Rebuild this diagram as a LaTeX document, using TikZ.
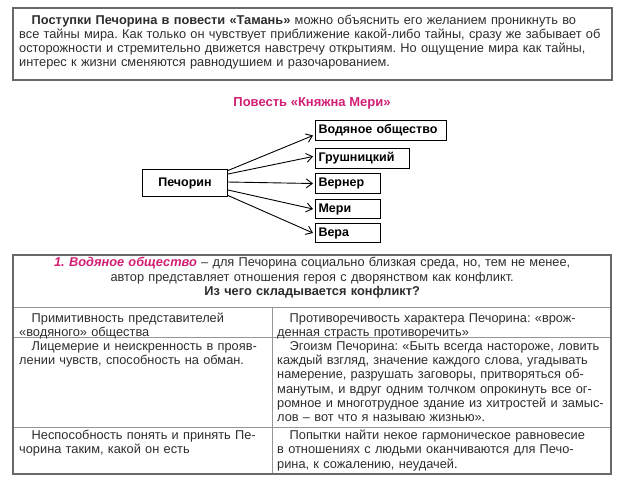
\documentclass[tikz,border=0pt]{standalone}
\usepackage{fontspec}
\setmainfont{Liberation Sans}
\usetikzlibrary{arrows.meta}
\definecolor{mag}{RGB}{210,30,115}
\definecolor{bord}{RGB}{105,105,105}
\definecolor{gridc}{RGB}{150,150,150}
\definecolor{txt}{RGB}{45,45,45}
\frenchspacing
\newcommand\jline[1]{\hbox to \hsize{\strut#1}}
\newcommand\nline[1]{\hbox{\strut#1}}
\newcommand\ctrline[1]{\hbox to \hsize{\hfil\strut#1\hfil}}
\newcommand\ind{\kern12.5pt}
\begin{document}
\begin{tikzpicture}[x=1pt,y=-1pt,
  txtblk/.style={anchor=north west, inner sep=0pt, text=txt, font=\fontsize{12.8}{14.2}\selectfont},
  cbox/.style={draw, line width=1pt, inner xsep=3pt, inner ysep=0pt, anchor=north west,
    font=\bfseries\fontsize{12.5}{14}\selectfont, text height=9.5pt, text depth=3pt, align=left},
  arr/.style={line width=0.9pt, -{Straight Barb[length=6pt,width=9pt]}},
  frame/.style={draw=bord, line width=2pt},
  gridline/.style={draw=gridc, line width=1pt}]
\useasboundingbox (0,0) rectangle (624,491);
% intro box
\draw[frame] (13,8) rectangle (612,80);
\node[txtblk, text width=585pt] (intro) at (19,14) {%
\nline{\ind\textbf{Поступки Печорина в повести «Тамань»} можно объяснить его желанием проникнуть во}
\nline{все тайны мира. Как только он чувствует приближение какой-либо тайны, сразу же забывает об}
\nline{осторожности и стремительно движется навстречу открытиям. Но ощущение мира как тайны,}
\nline{интерес к жизни сменяются равнодушием и разочарованием.}};
% title
\node[font=\bfseries\fontsize{13}{14}\selectfont, text=mag, inner sep=0pt] (title) at (312,103) {Повесть «Княжна Мери»};
% scheme
\node[cbox, minimum width=85pt, minimum height=27pt, text width=79pt, align=center] (pech) at (142,169) {Печорин};
\node[cbox, minimum width=131pt, minimum height=20pt, text width=125pt] (vod) at (315,120) {Водяное общество};
\node[cbox, minimum width=94pt, minimum height=20pt, text width=88pt] (grush) at (315,148) {Грушницкий};
\node[cbox, minimum width=65pt, minimum height=20pt, text width=59pt] (vern) at (315,173) {Вернер};
\node[cbox, minimum width=65pt, minimum height=19pt, text width=59pt] (meri) at (315,199) {Мери};
\node[cbox, minimum width=65pt, minimum height=19pt, text width=59pt] (vera) at (315,223) {Вера};
\draw[arr] ([yshift=-1.5pt]pech.north east) -- ([xshift=-2pt,yshift=-5pt]vod.west);
\draw[arr] ([yshift=-5pt]pech.north east) -- ([xshift=-2pt,yshift=2pt]grush.west);
\draw[arr] ([yshift=-13pt]pech.north east) -- ([xshift=-2pt]vern.west);
\draw[arr] ([yshift=-21pt]pech.north east) -- ([xshift=-2pt]meri.west);
\draw[arr] ([yshift=1.5pt]pech.south east) -- ([xshift=-2pt]vera.west);
% table lines
\draw[gridline] (13,307) -- (611,307);
\draw[gridline] (13,337) -- (611,337);
\draw[gridline] (13,427) -- (611,427);
\draw[gridline] (272,307) -- (272,474);
\draw[frame] (13,255) rectangle (611,474);
% header
\node[txtblk, text width=590pt] (head) at (17,256.8) {%
\ctrline{\textcolor{mag}{\bfseries\itshape 1. Водяное общество} – для Печорина социально близкая среда, но, тем не менее,}
\ctrline{автор представляет отношения героя с дворянством как конфликт.}
\ctrline{\bfseries Из чего складывается конфликт?}};
% row 1
\node[txtblk, text width=246pt] (l1) at (19,312.5) {%
\nline{\ind Примитивность представителей}
\nline{«водяного» общества}};
\node[txtblk, text width=323pt] (r1) at (277,312.5) {%
\nline{\ind Противоречивость характера Печорина: «врож-}
\nline{денная страсть противоречить»}};
% row 2
\node[txtblk, text width=246pt] (l2) at (19,340.3) {%
\nline{\ind Лицемерие и неискренность в прояв-}
\nline{лении чувств, способность на обман.}};
\node[txtblk, text width=325pt] (r2) at (277,340.3) {%
\jline{\ind Эгоизм Печорина: «Быть всегда настороже, ловить}
\jline{каждый взгляд, значение каждого слова, угадывать}
\jline{намерение, разрушать заговоры, притворяться об-}
\jline{манутым, и вдруг одним толчком опрокинуть все ог-}
\jline{ромное и многотрудное здание из хитростей и замыс-}
\nline{лов – вот что я называю жизнью».}};
% row 3
\node[txtblk, text width=246pt] (l3) at (19,429.5) {%
\nline{\ind Неспособность понять и принять Пе-}
\nline{чорина таким, какой он есть}};
\node[txtblk, text width=325pt] (r3) at (277,429.5) {%
\nline{\ind Попытки найти некое гармоническое равновесие}
\nline{в отношениях с людьми оканчиваются для Печо-}
\nline{рина, к сожалению, неудачей.}};
\end{tikzpicture}
\end{document}
